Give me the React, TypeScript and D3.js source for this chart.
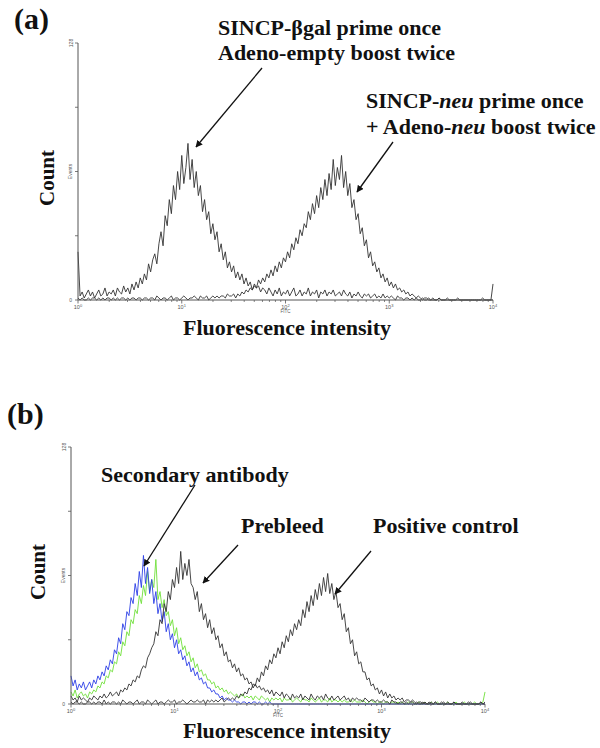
import React from "react";
import * as d3 from "d3";

// channel spacing in decades (log10 units) for every histogram below; channel i sits at 10^(i*DECADE_STEP)
const DECADE_STEP = 0.02;

// Panel (a): SINCP-βgal prime / Adeno-empty boost
const betagalCounts = [
  24, 2, 4, 1, 3, 5, 2, 4, 1, 3,
  5, 2, 3, 6, 2, 4, 3, 5, 2, 6,
  4, 3, 7, 4, 6, 3, 8, 5, 9, 6,
  11, 8, 13, 10, 18, 14, 20, 23, 18, 28,
  34, 27, 42, 37, 50, 43, 57, 50, 64, 55,
  72, 58, 66, 78, 60, 70, 56, 64, 52, 57,
  44, 50, 40, 44, 33, 38, 30, 34, 24, 28,
  20, 24, 16, 19, 14, 17, 11, 14, 10, 13,
  8, 11, 7, 9, 5, 8, 6, 7, 4, 6,
  5, 3, 6, 4, 2, 5, 3, 6, 2, 4,
  3, 5, 2, 4, 6, 2, 3, 5, 2, 4,
  3, 6, 2, 4, 3, 5, 1, 4, 3, 5,
  2, 4, 3, 5, 2, 3, 4, 2, 5, 3,
  2, 4, 1, 3, 2, 4, 2, 1, 3, 2,
  3, 1, 2, 3, 1, 2, 1, 3, 1, 2,
  1, 2, 1, 0, 2, 1, 1, 0, 1, 1,
  0, 1, 0, 1, 0, 0, 1, 0, 0, 1,
  0, 0, 0, 0, 1, 0, 0, 0, 0, 0,
  0, 0, 0, 0, 0, 0, 0, 0, 0, 0,
  0, 0, 0, 0, 0, 0, 0, 0, 0, 0,
  0,
];
// Panel (a): SINCP-neu prime + Adeno-neu boost
const neuCounts = [
  1, 0, 1, 0, 0, 1, 0, 1, 1, 0,
  1, 0, 1, 0, 1, 1, 0, 1, 0, 1,
  0, 1, 1, 0, 1, 0, 1, 1, 0, 1,
  1, 0, 1, 1, 0, 1, 1, 0, 2, 1,
  0, 1, 1, 0, 1, 2, 0, 1, 1, 0,
  1, 2, 1, 0, 1, 1, 2, 1, 0, 2,
  1, 1, 2, 0, 1, 2, 1, 2, 1, 2,
  2, 1, 3, 2, 2, 3, 1, 3, 2, 4,
  3, 5, 4, 6, 5, 7, 6, 10, 8, 11,
  9, 13, 11, 15, 12, 17, 14, 19, 16, 21,
  19, 24, 21, 28, 25, 31, 28, 35, 32, 38,
  36, 44, 40, 48, 43, 52, 46, 56, 50, 60,
  52, 63, 55, 70, 57, 66, 60, 72, 56, 64,
  52, 58, 46, 50, 40, 43, 33, 36, 27, 30,
  21, 24, 17, 19, 14, 16, 11, 13, 9, 11,
  7, 9, 6, 8, 5, 6, 4, 5, 3, 4,
  2, 3, 2, 1, 2, 1, 0, 1, 1, 0,
  0, 1, 0, 0, 1, 0, 0, 0, 1, 0,
  0, 0, 0, 1, 0, 0, 0, 0, 0, 0,
  0, 0, 0, 0, 0, 1, 0, 0, 0, 0,
  8,
];

// Panel (b): Secondary antibody (blue)
const secondaryCounts = [
  14, 9, 12, 7, 10, 8, 11, 7, 9, 11,
  8, 12, 10, 14, 12, 16, 14, 19, 17, 22,
  20, 27, 25, 33, 30, 40, 37, 46, 44, 53,
  50, 60, 54, 66, 58, 74, 60, 68, 55, 62,
  50, 56, 45, 50, 41, 46, 36, 40, 32, 35,
  28, 32, 25, 27, 22, 24, 19, 21, 16, 18,
  14, 16, 12, 13, 10, 11, 8, 8, 6, 7,
  5, 5, 3, 4, 2, 3, 2, 2, 1, 2,
  1, 1, 0, 1, 1, 0, 1, 0, 1, 1,
  0, 1, 0, 0, 1, 0, 1, 0, 0, 0,
  0, 0, 0, 0, 0, 0, 0, 0, 0, 0,
  0, 0, 0, 0, 0, 0, 0, 0, 0, 0,
  0, 0, 0, 0, 0, 0, 0, 0, 0, 0,
  0, 0, 0, 0, 0, 0, 0, 0, 0, 0,
  0, 0, 0, 0, 0, 0, 0, 0, 0, 0,
  0, 0, 0, 0, 0, 0, 0, 0, 0, 0,
  0, 0, 0, 0, 0, 0, 0, 0, 0, 0,
  0, 0, 0, 0, 0, 0, 0, 0, 0, 0,
  0, 0, 0, 0, 0, 0, 0, 0, 0, 0,
  0, 0, 0, 0, 0, 0, 0, 0, 0, 0,
  0,
];
// Panel (b): green sample
const greenCounts = [
  6, 4, 7, 3, 5, 6, 4, 5, 3, 6,
  5, 7, 6, 9, 8, 11, 10, 14, 13, 17,
  16, 21, 20, 26, 24, 31, 29, 36, 34, 42,
  40, 47, 45, 54, 50, 59, 54, 66, 56, 62,
  58, 72, 52, 56, 48, 52, 44, 46, 39, 42,
  34, 38, 30, 33, 27, 29, 24, 26, 21, 23,
  18, 20, 16, 17, 14, 15, 12, 12, 10, 11,
  8, 9, 7, 8, 6, 7, 5, 6, 5, 4,
  5, 3, 4, 5, 3, 4, 3, 4, 2, 4,
  3, 2, 4, 3, 2, 3, 1, 3, 2, 3,
  2, 3, 1, 3, 2, 2, 3, 1, 2, 3,
  2, 1, 3, 2, 2, 1, 3, 2, 1, 2,
  3, 1, 2, 2, 1, 3, 1, 2, 2, 1,
  2, 1, 2, 1, 1, 2, 1, 2, 1, 1,
  1, 2, 1, 0, 1, 2, 1, 1, 0, 1,
  1, 0, 1, 1, 0, 1, 1, 0, 1, 0,
  1, 0, 0, 1, 0, 1, 0, 0, 1, 0,
  0, 1, 0, 0, 1, 0, 0, 1, 0, 0,
  0, 0, 1, 0, 0, 0, 1, 0, 0, 0,
  1, 0, 0, 0, 0, 1, 0, 0, 0, 1,
  6,
];
// Panel (b): Prebleed (black)
const prebleedCounts = [
  4, 2, 3, 1, 4, 2, 3, 2, 1, 3,
  2, 4, 3, 2, 4, 3, 5, 3, 4, 6,
  4, 5, 6, 4, 7, 6, 8, 7, 10, 9,
  12, 11, 14, 13, 17, 19, 18, 23, 25, 28,
  30, 36, 34, 42, 40, 50, 46, 56, 52, 62,
  58, 68, 60, 76, 62, 70, 64, 72, 60, 58,
  52, 56, 46, 50, 42, 45, 38, 42, 35, 38,
  32, 34, 28, 30, 24, 26, 21, 22, 18, 20,
  16, 18, 14, 15, 12, 13, 10, 11, 8, 10,
  8, 9, 7, 8, 6, 7, 5, 7, 4, 6,
  5, 4, 6, 3, 5, 4, 2, 5, 3, 4,
  3, 5, 2, 4, 3, 2, 5, 3, 2, 4,
  3, 4, 2, 5, 3, 2, 4, 2, 3, 4,
  2, 3, 4, 2, 3, 1, 3, 2, 3, 2,
  2, 1, 3, 2, 1, 2, 2, 1, 2, 1,
  1, 2, 1, 1, 0, 2, 1, 1, 0, 1,
  1, 0, 1, 0, 1, 1, 0, 1, 0, 0,
  1, 0, 0, 1, 0, 0, 1, 0, 0, 1,
  0, 0, 1, 0, 0, 1, 0, 0, 0, 1,
  0, 0, 0, 1, 0, 0, 0, 0, 1, 0,
  1,
];
// Panel (b): Positive control (black)
const positiveCounts = [
  1, 0, 1, 1, 0, 1, 0, 0, 1, 1,
  0, 1, 0, 1, 1, 0, 2, 0, 1, 0,
  1, 1, 0, 1, 0, 2, 1, 0, 1, 1,
  0, 1, 2, 0, 1, 1, 0, 2, 1, 0,
  1, 2, 0, 1, 1, 0, 1, 2, 1, 1,
  2, 0, 1, 1, 2, 1, 0, 1, 2, 1,
  1, 2, 1, 1, 2, 0, 2, 1, 2, 1,
  2, 1, 2, 3, 1, 2, 3, 2, 3, 2,
  4, 3, 5, 4, 6, 5, 8, 7, 10, 9,
  13, 11, 16, 14, 19, 17, 22, 20, 25, 23,
  28, 25, 31, 28, 34, 31, 37, 34, 40, 37,
  42, 39, 47, 43, 51, 46, 54, 49, 57, 52,
  60, 54, 63, 56, 65, 55, 60, 52, 56, 48,
  50, 42, 45, 36, 38, 30, 32, 24, 26, 20,
  21, 16, 16, 12, 13, 9, 10, 7, 8, 5,
  7, 4, 6, 3, 5, 3, 4, 2, 3, 2,
  3, 1, 2, 2, 1, 2, 1, 0, 1, 1,
  0, 1, 0, 0, 1, 0, 1, 0, 0, 0,
  1, 0, 0, 0, 0, 1, 0, 0, 0, 0,
  0, 0, 1, 0, 0, 0, 0, 0, 1, 0,
  0,
];

const xDomain = [1, 10000];
const yDomain = [0, 128];
const yTicks = [0, 32, 64, 96, 128];
const decadeTicks = [1, 10, 100, 1000, 10000];
const decadeExp = ["0", "1", "2", "3", "4"];

const SERIF = "'Liberation Serif', 'Times New Roman', serif";
const SANS = "'Liberation Sans', Arial, sans-serif";

type Series = { counts: number[]; color: string; width: number };

function Histogram({
  left, right, bottom, top, series,
}: { left: number; right: number; bottom: number; top: number; series: Series[] }) {
  const x = d3.scaleLog().domain(xDomain).range([left, right]);
  const y = d3.scaleLinear().domain(yDomain).range([bottom, top]);
  const minor = x.ticks().filter((t) => !decadeTicks.includes(t));
  const line = d3
    .line<number>()
    .x((_, i) => x(Math.pow(10, i * DECADE_STEP)))
    .y((d) => y(d));
  const axisColor = "#555";
  return (
    <g>
      {series.map((s, k) => (
        <path key={k} d={line(s.counts) || ""} fill="none" stroke={s.color} strokeWidth={s.width} strokeLinejoin="miter" />
      ))}
      {/* y axis */}
      <line x1={left} x2={left} y1={y(128)} y2={y(0)} stroke={axisColor} strokeWidth={1} />
      {yTicks.map((t) => (
        <line key={t} x1={left - 3} x2={left} y1={y(t)} y2={y(t)} stroke={axisColor} strokeWidth={0.8} />
      ))}
      <text x={left - 6} y={y(0) + 2} fontSize={5} fontFamily={SANS} fill="#555" textAnchor="end">0</text>
      <text transform={`translate(${left - 5},${y(128)}) rotate(-90)`} fontSize={5} fontFamily={SANS} fill="#555" textAnchor="middle">128</text>
      <text transform={`translate(${left - 6},${y(64)}) rotate(-90)`} fontSize={5} fontFamily={SANS} fill="#555" textAnchor="middle">Events</text>
      {/* x axis */}
      <line x1={left} x2={right} y1={y(0)} y2={y(0)} stroke={axisColor} strokeWidth={1} />
      {minor.map((t) => (
        <line key={t} x1={x(t)} x2={x(t)} y1={y(0)} y2={y(0) + 2} stroke={axisColor} strokeWidth={0.7} />
      ))}
      {decadeTicks.map((t, i) => (
        <g key={t}>
          <line x1={x(t)} x2={x(t)} y1={y(0)} y2={y(0) + 3.5} stroke={axisColor} strokeWidth={0.8} />
          <text x={x(t)} y={y(0) + 8.5} fontSize={5.5} fontFamily={SANS} fill="#555" textAnchor="middle">
            10<tspan dy={-2} fontSize={4}>{decadeExp[i]}</tspan>
          </text>
        </g>
      ))}
      <text x={x(100)} y={y(0) + 13} fontSize={4.5} fontFamily={SANS} fill="#555" textAnchor="middle">FITC</text>
    </g>
  );
}

function Arrow({ x1, y1, x2, y2 }: { x1: number; y1: number; x2: number; y2: number }) {
  return <line x1={x1} y1={y1} x2={x2} y2={y2} stroke="#111" strokeWidth={1.3} markerEnd="url(#ah)" />;
}

const black = "#333";

export default function App() {
  const textProps = { fontFamily: SERIF, fontWeight: 700, fill: "#111" } as const;
  return (
    <svg width={600} height={748} style={{ position: "absolute", left: 0, top: 0, background: "#fff" }}>
      <defs>
        <marker id="ah" viewBox="0 0 10 10" refX={9} refY={5} markerWidth={7} markerHeight={7} markerUnits="userSpaceOnUse" orient="auto">
          <path d="M0,0 L10,5 L0,10 Z" fill="#111" />
        </marker>
      </defs>
      <rect x={0} y={0} width={600} height={748} fill="#fff" />

      {/* Panel (a) */}
      <text x={14} y={29} fontSize={30} {...textProps}>(a)</text>
      <Histogram
        left={78} right={493} bottom={300} top={43}
        series={[
          { counts: neuCounts, color: black, width: 0.9 },
          { counts: betagalCounts, color: black, width: 0.9 },
        ]}
      />
      <text x={218} y={35} fontSize={22} {...textProps}>SINCP-βgal prime once</text>
      <text x={218} y={60} fontSize={22} {...textProps}>Adeno-empty boost twice</text>
      <text x={366} y={108} fontSize={22} {...textProps}>SINCP-<tspan fontStyle="italic">neu</tspan> prime once</text>
      <text x={366} y={134} fontSize={22} {...textProps}>+ Adeno-<tspan fontStyle="italic">neu</tspan> boost twice</text>
      <Arrow x1={262} y1={68} x2={196} y2={147} />
      <Arrow x1={393} y1={142} x2={357} y2={192} />
      <text transform="translate(54,178) rotate(-90)" fontSize={21} textAnchor="middle" {...textProps}>Count</text>
      <text x={287} y={335} fontSize={22} textAnchor="middle" {...textProps}>Fluorescence intensity</text>

      {/* Panel (b) */}
      <text x={7} y={424} fontSize={30} {...textProps}>(b)</text>
      <Histogram
        left={71} right={485} bottom={704} top={447}
        series={[
          { counts: greenCounts, color: "#6fe03a", width: 0.9 },
          { counts: secondaryCounts, color: "#2c3fe6", width: 0.9 },
          { counts: prebleedCounts, color: black, width: 0.9 },
          { counts: positiveCounts, color: black, width: 0.9 },
        ]}
      />
      <text x={101} y={482} fontSize={22} {...textProps}>Secondary antibody</text>
      <text x={241} y={533} fontSize={22} {...textProps}>Prebleed</text>
      <text x={373} y={533} fontSize={22} {...textProps}>Positive control</text>
      <Arrow x1={195} y1={485} x2={144} y2={566} />
      <Arrow x1={238} y1={545} x2={203} y2={583} />
      <Arrow x1={371} y1={551} x2={335} y2={594} />
      <text transform="translate(45,572) rotate(-90)" fontSize={21} textAnchor="middle" {...textProps}>Count</text>
      <text x={287} y={738} fontSize={22} textAnchor="middle" {...textProps}>Fluorescence intensity</text>
    </svg>
  );
}
